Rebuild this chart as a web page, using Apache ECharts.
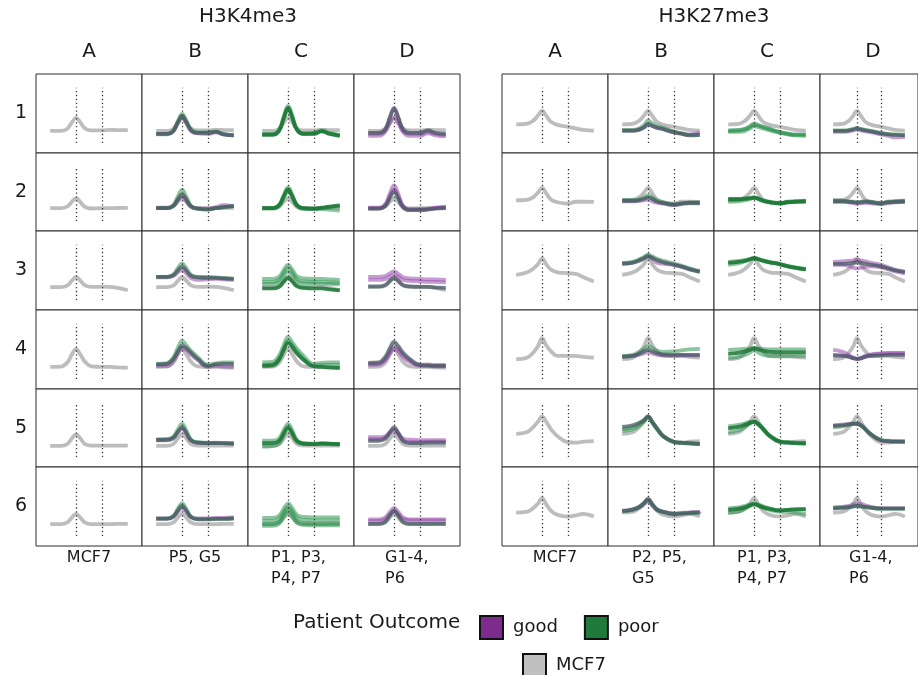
<!DOCTYPE html>
<html><head><meta charset="utf-8">
<script src="https://cdn.jsdelivr.net/npm/echarts@6/dist/echarts.min.js"></script>
<style>html,body{margin:0;padding:0;background:#fff}#chart{width:918px;height:675px}</style>
</head><body><div id="chart"></div>
<script>
// ---- data ----
const positions = [-1, -0.6, -0.35, -0.15, 0, 0.15, 0.35, 0.6, 1, 1.3, 1.6, 2];
const markerPositions = [0, 1];
const rowLabels = ['1', '2', '3', '4', '5', '6'];
const colLabels = ['A', 'B', 'C', 'D'];
const panelTitles = ['H3K4me3', 'H3K27me3'];
const k4GroupLabels = ['MCF7', 'P5, G5', 'P1, P3,\nP4, P7', 'G1-4,\nP6'];
const k27GroupLabels = ['MCF7', 'P2, P5,\nG5', 'P1, P3,\nP4, P7', 'G1-4,\nP6'];
const legendTitle = 'Patient Outcome';

const k4Mcf7 = [
  [22,22,24,30.8,35,31,24.4,22.5,22.5,23,22.8,22.8],
  [23,23,24.5,29.8,33,29.7,24.2,22.7,23,23,23.2,23.3],
  [22.7,22.7,24.2,29.5,32.7,29.6,24.5,23,23.2,23,22,19.7],
  [22,22.3,26,35,39.7,35,27,22.5,22,22,21.5,21.3],
  [21.3,21.3,23,29.3,33,29.3,23,21.5,21.5,21.5,21.5,21.5],
  [21.7,21.7,23.2,28.7,32,28.7,23.2,21.7,21.8,21.8,22,22]
];
const k4B = [
  [['poor',[18.5,18.5,21.6,32.4,39,33.1,23.3,20.5,20.5,21.5,19,18]], ['good',[19,19,21.4,29.9,35,30,21.8,19.5,19,20.5,18.5,17.5]], ['mix',[19,19,21.7,31.2,37,31.6,22.6,20,20,21,18.5,17.5]]],
  [['poor',[23,23,25.8,35.6,41.5,35.4,25.4,22.5,22,23,24,25]], ['good',[23.5,23.5,25.2,31,34.5,30.8,24.7,23,22.5,24,26,25]], ['mix',[23,23,25.1,32.5,37,32.4,24.7,22.5,21.5,23,24,25]]],
  [['poor',[33,33,35,42.2,46.5,42.2,35,33,33,32.5,32,31]], ['good',[32.5,32.5,33.6,37.6,40,36.8,31.5,30,30.5,31,30.5,30]], ['mix',[33,33,34.5,39.8,43,39.6,34.1,32.5,32,32,31.5,31]]],
  [['poor',[25,25.5,31,41.7,48,44,38,32,24,25.5,26.5,26.5]], ['good',[23,23,27.5,36,41,39,34,29,22,23,22.5,22]], ['mix',[24.5,25,29.5,38,43,41,36,30,23,24.5,25,25]]],
  [['poor',[27.5,28,30.3,38.5,43.5,37.6,27.8,25,24.5,24,24,24]], ['good',[27,27,28.7,34.8,38.5,34,26.6,24.5,24,24.5,24,23.5]], ['mix',[27.5,27.5,29.4,36,40,35,26.8,24.5,24,24,24,23.5]]],
  [['poor',[27.5,27.5,29.8,37.7,42.5,37.5,29.3,27,27,27,27,27.5]], ['good',[27.5,27.5,29,34.3,37.5,34.3,29,27.5,27.5,28,28,28.5]], ['mix',[27,27,29,35.8,40,35.7,28.5,26.5,26.5,27,27,27.5]]]
];
const k4C = [
  [['poor',[18.5,18.5,22.8,37.9,47,38.2,23.6,19.5,20,22.5,20,17.5]], ['poor',[19,19,22.6,35.3,43,35.3,22.6,19,19.5,22,19.5,18]], ['poorDark',[18,18,22,36.4,45,36.7,22.9,19,19,21.5,19,17]]],
  [['poor',[23,23,26.2,37.3,44,37.1,25.7,22.5,22.5,23,24,26]], ['poor',[22.5,22.5,25.1,34.4,40,34.4,25.1,22.5,22,22,21.5,20.5]], ['poorDark',[23,23,25.9,35.9,42,35.9,25.9,23,22.5,23.5,24.5,25.5]]],
  [['poor',[31,31,33.1,40.5,45,40.7,33.5,31.5,31,31,30.5,30]], ['poor',[28,28,30.1,37.5,42,37.7,30.5,28.5,28,28,27.5,27]], ['poor',[26,26,27.8,34.2,38,34.3,28.2,26.5,26.5,26,26,25.5]], ['poorDark',[21.5,21.5,23.1,28.6,32,28.8,23.5,22,21.5,21.5,20.5,19.5]]],
  [['poor',[26.5,27,33.3,45,52,47,40,33,25,26,26.5,26.5]], ['poor',[24,24.5,30.4,41.4,48,44,37,30,23.5,24,24,24]], ['poorDark',[23,23.5,29.1,39.7,46,42,35,29,22.5,22,21.5,21]]],
  [['poor',[26.5,26.5,29,38.2,43.5,37.7,26.9,24,23.5,24,23.5,23]], ['poor',[20.5,21,23.5,32.6,38,33.2,25.3,23,23,23.5,23,22.5]], ['poorDark',[24,24,26.4,34.9,40,34.7,26,23.5,23,23.5,23.5,23]]],
  [['poor',[28,28,30.2,37.9,42.5,38.2,31,29,28.5,28.5,28.5,28.5]], ['poor',[25,25,27.1,34.5,39,34.8,28,26,25.5,25.5,25.5,25.5]], ['poor',[22,22,24.3,32.2,37,32.5,25,23,22.5,22.5,22.5,22.5]], ['poor',[20,20,22.1,29.5,34,29.8,23,21,20.5,20.5,20.5,20.5]]]
];
const k4D = [
  [['good',[17,17,21.2,36,45,36,21.2,17,17,19.5,17.5,16.5]], ['good',[19,19,21.4,29.9,35,29.9,21.4,19,19,21,19,18]], ['mix',[20,20,23.6,36.3,44,36.3,23.6,20,20,22.5,20,19]]],
  [['good',[23.5,23.5,26.9,38.8,46,38.3,25.6,22,22,22.5,23.5,24.5]], ['good',[22.5,22.5,25.4,35.8,42,35.4,24.6,21.5,21.5,22,23,24]], ['mix',[22.5,22.5,25,34,39.5,33.6,23.8,21,21,21.5,22.5,23]]],
  [['good',[33,33,33.8,36.7,38.5,36.3,32.6,31.5,31,30.5,30.5,30]], ['good',[30,30,30.8,33.4,35,33.1,29.9,29,28.5,28,28,27.5]], ['mix',[23.5,23.5,24.7,29,31.5,29,24.7,23.5,23,23,22.5,22]]],
  [['mix',[26,26.5,31.6,41.3,47,43,36,30,24,23.5,23,23]], ['good',[24,24.5,29.1,37.8,43,40,34,28.5,23,23,22.5,22.5]], ['good',[25,25,28.8,35.8,40,38,32,27,24,24.5,24,24]]],
  [['good',[28,28,29.5,34.8,38,33.8,27,25,25,25.5,25.5,25.5]], ['mix',[26.5,26.5,28.5,35.7,40,34.9,26.4,24,24,24.5,24.5,24.5]], ['good',[30,30,31,34.8,37,34,28.9,27.5,27,27,27,27]]],
  [['good',[26.5,26.5,28.2,34.3,38,34.3,28.2,26.5,26.5,26.5,26.5,26.5]], ['good',[25,25,26.5,31.8,35,32,26.9,25.5,25.5,25.5,25.5,25.5]], ['mix',[22,22,24,30.8,35,30.8,24,22,22,22,22,22]]]
];

const k27Mcf7 = [
  [28.5,29,32,37.5,42,37.5,31,28,26,24.5,23,22.3],
  [31,31.5,34,39,43.5,38.5,31.5,29,27.7,29.5,29.5,29.3],
  [35,37.3,41,46,51.5,46,40,37.5,36.7,36,32.5,28.3],
  [29.7,31,36,43,50.7,44,37.5,33,33,33,32,31.3],
  [33.5,35,40,46,51,46,38,31,25,24.5,25.5,26],
  [33.3,34,37.5,42.5,47.7,42,35,31,29.3,30.5,32,29.3]
];
const k27B = [
  [['poor',[23,23,24.5,28,32.5,30,27,25,21.5,19.5,18,18]], ['mix',[22,22,23,25.5,28.5,27,25,23.5,20.5,19,17.5,18]], ['good',[22.5,22.5,23.5,26,29,27.5,25.5,24,21,19.5,18.5,20.5]]],
  [['poor',[31,31,32,34,36,34,31,29,27,28,28.5,28.5]], ['mix',[30.5,30.5,31,32.5,34,32.5,29.5,28,26.5,27.5,28.5,28.5]], ['good',[30,30,30.5,31,31.5,30,28.5,27.5,26,27,28,28]]],
  [['poor',[47,48,50.5,53,55,53.5,51,49,46.5,44,41.5,38.5]], ['mix',[46,47,49,51.5,53.5,52,49.5,47.5,45,43,40.5,38]], ['good',[46.5,47.5,49.5,52,54,51,47,46,45,43.5,41,38.5]]],
  [['poor',[33,34,37,40,43,41,38,37,37.5,38.5,39.5,40]], ['mix',[32,33,35,37.5,39,37.5,35.5,34.5,34,34,34,34]], ['good',[32.5,33,34,35.5,36.5,35.5,34,33.5,33,33.5,33.5,33.5]]],
  [['mix',[40.5,42,44.5,47.5,51,46,39,31,25.5,24.5,24,23]], ['poor',[38,40,43.5,47,50.5,45.5,38.5,30.5,25,24,23.5,23]], ['poor',[36.5,38,41.5,46,50,45,38,30.5,25.5,24.5,24,23.5]]],
  [['mix',[35,36.5,39,43,46.5,42,36.5,34,32,32.5,33,33.5]], ['poor',[34.5,36,38.5,42.5,46,41.5,36,33.5,31.5,32,32.5,33]], ['good',[35,36,38,41.5,44.5,40.5,36,34,32.5,33,33.5,34]]]
];
const k27C = [
  [['poor',[22,22.5,24,27,29.5,28,26,24,20.5,19,18,18]], ['poor',[21,21,22,24.5,27,26,24.5,22.5,20,18.5,17.5,17]], ['poor',[22.5,23,24,26,28,27.5,26,24,21,19.5,18.5,18.5]]],
  [['poor',[32.5,32.5,33,33.5,34,33,31,29.5,28.5,29.5,30,30.5]], ['poor',[29.5,30,31,32.5,34,32.5,30,29,28,29,29.5,30]], ['poorDark',[32,32,32.5,33,33.5,32.5,30.5,29,28,29,29.5,30]]],
  [['poor',[48,49,50,51,52,51,49.5,48,46,44,42.5,41]], ['poor',[45,46.5,48.5,50.5,52,51,49,47.5,45.5,43.5,42,40.5]], ['poorDark',[47,48,49,50.5,51.5,50.5,49,47.5,45.5,43.5,42,40.5]]],
  [['poor',[39,39.5,40,40.5,41,40.5,40,39.5,39.5,39.5,39.5,39.5]], ['poorDark',[35,36,37.5,39,40.5,39.5,38,37,36.5,36.5,36.5,36.5]], ['poor',[31,32,34,36.5,38.5,36.5,34,33,32.5,32.5,33,33]]],
  [['poor',[41,42.5,44,45.5,46,44,39,32,26,25,24.5,24]], ['poor',[35,37,40.5,44,46,43,38,31.5,26,25,24.5,24]], ['poorDark',[39,40.5,42.5,44.5,45.5,43.5,38.5,31.5,25.5,24.5,24,23.5]]],
  [['poor',[37.5,38.5,40,41.5,42.5,41.5,39.5,37.5,35.5,36,36.5,37]], ['poor',[33,34.5,37,40,42,40.5,38,36,34,34,33,32]], ['poorDark',[36,37,38.5,40.5,41.5,40.5,38.5,37,35.5,36,36.5,36.5]]]
];
const k27D = [
  [['mix',[22,22,22.5,23.5,24.5,23.5,22.5,21.5,19.5,18.5,18,17.5]], ['good',[21,21,21.5,22.5,23.5,22.5,21.5,20.5,18.5,17,15.5,16]], ['poor',[22.5,22.5,23,24,25,24,23,22,20,19,18.5,18]]],
  [['mix',[30,30,29.5,29,28.5,29,29.5,29,28,29,29.5,30]], ['good',[29.5,29.5,29,28,27.5,28,28.5,28,27,28,29,29.5]], ['poor',[30.5,30.5,30,29.5,29,29.5,30,29.5,28.5,29.5,30,30.5]]],
  [['good',[48,48.5,49,49.5,50,49.5,48.5,47,45,42.5,40,38]], ['mix',[46,46,46.5,47,47.5,47,46,45,43.5,41.5,39.5,38]], ['good',[45,45,44,42,41.5,42,43,43.5,42.5,40.5,38.5,36.5]]],
  [['good',[39,37,34,31,29.5,30.5,32.5,34,35,35.5,35.5,35.5]], ['mix',[33.5,33,32,30.5,30,30.5,32,33,33.5,34,34,34]], ['good',[34,33.5,32.5,31,30,31,33,34.5,35.5,36,36,36]]],
  [['good',[42,43,43.5,44,44,42.5,38.5,33,27,26,25.5,25]], ['mix',[41.5,42,43,43.5,43.5,42,38,32.5,27,26,25.5,25.5]], ['poor',[40,41,42.5,43.5,43.5,42,38,32.5,27.5,26.5,26,25.5]]],
  [['good',[38.5,39,40,41.5,42.5,42,40.5,39,37.5,37.5,37.5,37.5]], ['mix',[37.5,38,38.5,39.5,40,39.5,39,38,37.5,37.5,37.5,37.5]], ['poor',[38,38.5,39,39.5,40,39.5,39,38,37,37,37,37]]]
];

// ---- styling / layout ----
const FONT = '"DejaVu Sans", Verdana, sans-serif';
const lineColors = {
  good: 'rgba(150,72,172,0.55)',
  poor: 'rgba(44,148,78,0.55)',
  mix: 'rgba(70,88,98,0.75)',
  poorDark: 'rgba(26,118,52,0.85)'
};
const lineZ = { good: 3, poor: 4, mix: 5, poorDark: 5 };
const seriesNames = { good: 'good', poor: 'poor', mix: 'good / poor', poorDark: 'poor' };
const panels = [
  { title: panelTitles[0], left: 36, mcf7: k4Mcf7, cols: [null, k4B, k4C, k4D], labels: k4GroupLabels,
    labelX: [89, 195, 271, 385], labelAlign: ['center', 'center', 'left', 'left'], rowLabels: true },
  { title: panelTitles[1], left: 502, mcf7: k27Mcf7, cols: [null, k27B, k27C, k27D], labels: k27GroupLabels,
    labelX: [555, 632, 737, 849], labelAlign: ['center', 'left', 'left', 'left'], rowLabels: false }
];
const colW = 106, top0 = 74, rowH = 78.67;
const SMOOTH = 0.45, LW = 3.8;

const grids = [], xAxes = [], yAxes = [], series = [], graphics = [];
function txt(text, x, y, size, align, valign, lh) {
  graphics.push({ type: 'text', x: x, y: y, silent: true,
    style: { text: text, font: size + 'px ' + FONT, fill: '#1a1a1a',
      textAlign: align, align: align, textVerticalAlign: valign, verticalAlign: valign,
      lineHeight: lh || size * 1.2 } });
}

panels.forEach(function (p) {
  txt(p.title, p.left + 2 * colW, 17, 20, 'center', 'middle');
  colLabels.forEach(function (c, ci) { txt(c, p.left + ci * colW + colW / 2, 52, 20, 'center', 'middle'); });
  p.labels.forEach(function (l, ci) { txt(l, p.labelX[ci], 547, 16, p.labelAlign[ci], 'top', 21); });
  for (let r = 0; r < rowLabels.length; r++) {
    const top = Math.round(top0 + r * rowH);
    const h = Math.round(top0 + (r + 1) * rowH) - top;
    if (p.rowLabels) txt(rowLabels[r], 21, top + h / 2, 19, 'center', 'middle');
    for (let c = 0; c < colLabels.length; c++) {
      const g = grids.length;
      grids.push({ left: p.left + c * colW, top: top, width: colW, height: h,
        show: true, borderColor: '#2b2b2b', borderWidth: 1, backgroundColor: '#fff', containLabel: false });
      xAxes.push({ gridIndex: g, type: 'value', min: -1.55, max: 2.55, show: false });
      yAxes.push({ gridIndex: g, type: 'value', min: 0, max: rowH, show: false });
      series.push({
        type: 'line', name: 'MCF7', xAxisIndex: g, yAxisIndex: g, silent: true,
        data: positions.map(function (x, i) { return [x, p.mcf7[r][i]]; }),
        smooth: SMOOTH, showSymbol: false, z: 2,
        lineStyle: { color: '#bdbdbd', width: LW }, itemStyle: { color: '#bdbdbd' },
        markLine: { silent: true, symbol: ['none', 'none'], label: { show: false },
          lineStyle: { color: '#3a3a3a', width: 1.3, type: [1.3, 2.6] },
          emphasis: { disabled: true },
          data: markerPositions.map(function (m) { return [{ coord: [m, 10] }, { coord: [m, 65] }]; }) }
      });
      const cellLines = p.cols[c] ? p.cols[c][r] : [];
      cellLines.forEach(function (ln) {
        series.push({
          type: 'line', name: seriesNames[ln[0]], xAxisIndex: g, yAxisIndex: g, silent: true,
          data: positions.map(function (x, i) { return [x, ln[1][i]]; }),
          smooth: SMOOTH, showSymbol: false, z: lineZ[ln[0]],
          lineStyle: { color: lineColors[ln[0]], width: LW }, itemStyle: { color: lineColors[ln[0]] }
        });
      });
    }
  }
});
txt(legendTitle, 293, 623, 20, 'left', 'middle');

const chart = echarts.init(document.getElementById('chart'), null, { renderer: 'canvas' });
chart.setOption({
  animation: false,
  backgroundColor: '#fff',
  grid: grids, xAxis: xAxes, yAxis: yAxes, series: series,
  legend: [
    { left: 474, top: 610, icon: 'rect', itemWidth: 23, itemHeight: 23, itemGap: 26, selectedMode: false,
      itemStyle: { borderColor: '#111', borderWidth: 2 },
      textStyle: { fontSize: 18, fontFamily: FONT, color: '#1a1a1a', padding: [0, 0, 4, 5] },
      data: [{ name: 'good', itemStyle: { color: '#7b2c8c' } }, { name: 'poor', itemStyle: { color: '#1f7b3c' } }] },
    { left: 517, top: 648, icon: 'rect', itemWidth: 23, itemHeight: 23, selectedMode: false,
      itemStyle: { borderColor: '#111', borderWidth: 2 },
      textStyle: { fontSize: 18, fontFamily: FONT, color: '#1a1a1a', padding: [0, 0, 0, 5] },
      data: [{ name: 'MCF7', itemStyle: { color: '#c0c0c0' } }] }
  ],
  graphic: graphics
});
</script></body></html>
